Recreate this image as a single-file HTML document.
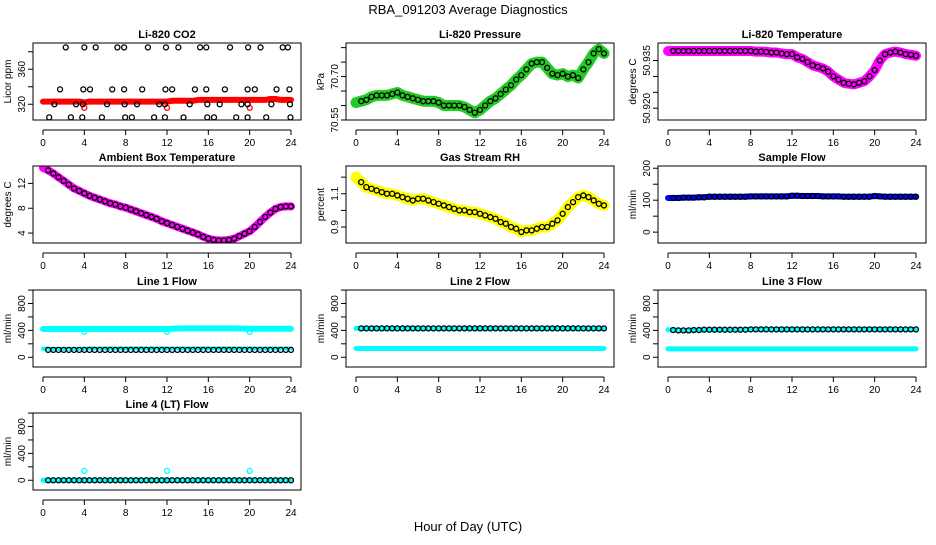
<!DOCTYPE html>
<html><head><meta charset="utf-8"><style>
body{margin:0;background:#fff;}
svg text{font-family:"Liberation Sans",sans-serif;}
</style></head><body>
<svg id="chart" width="936" height="540" viewBox="0 0 936 540" xmlns="http://www.w3.org/2000/svg">
<rect width="936" height="540" fill="#fff"/>
<text x="468" y="14" text-anchor="middle" font-size="13">RBA_091203  Average Diagnostics</text>
<text x="468" y="531" text-anchor="middle" font-size="13">Hour of Day (UTC)</text>
</svg>
<script>
const hours = [0,0.5,1,1.5,2,2.5,3,3.5,4,4.5,5,5.5,6,6.5,7,7.5,8,8.5,9,9.5,10,10.5,11,11.5,12,12.5,13,13.5,14,14.5,15,15.5,16,16.5,17,17.5,18,18.5,19,19.5,20,20.5,21,21.5,22,22.5,23,23.5,24];
const xTicks = [0,4,8,12,16,20,24];

const co2Band = [323,323,323,323,323,323,323,323,322,323,323,323,323,323,323,323,323,323,323,323,323,323,323,323,323,324,324,324,324,324,325,325,325,325,325,325,325,325,325,325,325,325,325,325,326,326,325,325,325];
const co2Hours = [2.2,4.0,5.1,7.2,7.85,10.15,11.9,13.1,15.2,15.8,18.1,19.85,21.05,23.2,23.7, 1.65,3.9,4.55,6.7,7.85,9.6,11.85,12.5,14.7,15.8,17.6,19.8,20.5,22.6,23.85, 1.1,3.2,3.85,6.2,7.9,9.1,11.25,11.8,14.2,15.9,17.1,19.2,19.8,22.1,23.9, 0.6,2.7,3.8,5.7,7.95,8.6,10.75,11.8,13.6,15.9,16.55,18.7,19.8,21.6,23.95];
const co2Values = [385,385,385,385,385,385,385,385,385,385,385,385,385,385,385, 337,337,337,337,337,337,337,337,337,337,337,337,337,337,337, 320,320,320,320,320,320,320,320,320,320,320,320,320,320,320, 305,305,305,305,305,305,305,305,305,305,305,305,305,305,305];

const pressure = [70.61,70.615,70.62,70.63,70.635,70.635,70.635,70.64,70.645,70.635,70.63,70.625,70.62,70.615,70.615,70.615,70.61,70.60,70.60,70.60,70.60,70.595,70.585,70.575,70.585,70.60,70.615,70.625,70.64,70.655,70.67,70.69,70.705,70.725,70.745,70.75,70.75,70.73,70.71,70.705,70.71,70.70,70.705,70.695,70.725,70.75,70.78,70.795,70.78];
const liTemp = [50.938,50.938,50.938,50.938,50.938,50.938,50.938,50.938,50.938,50.938,50.938,50.938,50.938,50.938,50.938,50.938,50.938,50.9378,50.9378,50.9377,50.9375,50.9375,50.9372,50.937,50.937,50.936,50.9355,50.9345,50.9335,50.933,50.9325,50.9315,50.930,50.929,50.928,50.9277,50.9275,50.928,50.9285,50.930,50.932,50.935,50.937,50.9375,50.9378,50.9375,50.937,50.9368,50.9365];
const ambient = [14.5,14.1,13.6,13.0,12.4,11.8,11.2,10.8,10.4,10.0,9.7,9.4,9.1,8.8,8.6,8.3,8.1,7.8,7.5,7.2,6.9,6.6,6.3,5.9,5.6,5.3,5.0,4.7,4.4,4.1,3.8,3.4,3.1,2.9,2.8,2.8,2.9,3.1,3.5,3.9,4.3,5.0,5.8,6.6,7.3,7.9,8.2,8.3,8.3];
const rh = [1.20,1.17,1.14,1.13,1.12,1.11,1.10,1.10,1.09,1.08,1.07,1.06,1.07,1.07,1.06,1.05,1.04,1.03,1.02,1.01,1.00,1.00,0.99,0.99,0.98,0.97,0.96,0.95,0.93,0.92,0.90,0.89,0.87,0.88,0.88,0.89,0.90,0.90,0.92,0.94,0.98,1.02,1.05,1.08,1.09,1.08,1.06,1.04,1.03];
const sampleFlow = [107,107,107,108,108,108,109,109,111,111,111,111,111,111,111,111,112,112,112,112,112,112,112,112,114,114,113,113,113,113,112,112,112,112,111,111,111,111,111,111,113,112,111,111,111,111,111,111,111];

const line1High = [420,420,420,420,420,420,420,420,420,420,420,420,420,420,420,420,420,420,420,420,420,420,420,420,420,425,428,430,430,430,430,430,430,430,430,430,430,430,428,426,425,425,425,425,425,425,425,425,425];
const line1Low = [125,125,125,125,125,125,125,125,125,130,130,130,130,130,130,130,130,130,130,130,130,130,130,130,130,130,130,130,130,130,130,130,130,130,130,130,130,130,130,130,130,130,130,130,130,130,130,130,130];
const line1Mean = [110,110,110,110,110,110,110,110,110,110,110,110,110,110,110,110,110,110,110,110,110,110,110,110,110,110,110,110,110,110,110,110,110,110,110,110,110,110,110,110,110,110,110,110,110,110,110,110,110];
const line2Low = [130,130,130,130,130,130,130,130,130,130,130,130,130,130,130,130,130,130,130,130,130,130,130,130,130,130,130,130,130,130,130,130,130,130,130,130,130,130,130,130,130,130,130,130,130,130,130,130,130];
const line2Mean = [430,430,430,430,430,430,430,430,430,430,430,430,430,430,430,430,430,430,430,430,430,430,430,430,430,430,430,430,430,430,430,430,430,430,430,430,430,430,430,430,430,430,430,430,430,430,430,430,430];
const line3Low = [125,125,125,125,125,125,125,125,125,125,125,125,125,125,125,125,125,125,125,125,125,125,125,125,125,125,125,125,125,125,125,125,125,125,125,125,125,125,125,125,125,125,125,125,125,125,125,125,125];
const line3Mean = [410,405,400,400,400,405,405,410,410,410,410,410,410,410,410,410,415,415,415,415,415,415,415,415,415,415,415,415,415,415,415,415,415,415,415,415,415,415,415,415,415,415,415,415,415,415,415,415,415];
const line4Cyan = [0,0,0,0,0,0,0,0,0,0,0,0,0,0,0,0,0,0,0,0,0,0,0,0,0,0,0,0,0,0,0,0,0,0,0,0,0,0,0,0,0,0,0,0,0,0,0,0,0];
const line4Mean = [0,0,0,0,0,0,0,0,0,0,0,0,0,0,0,0,0,0,0,0,0,0,0,0,0,0,0,0,0,0,0,0,0,0,0,0,0,0,0,0,0,0,0,0,0,0,0,0,0];
const outlierHours = [4,12,20];
const co2Outliers = [316,316,316];
const line4Outliers = [140,140,140];
const line1Outliers = [380,380,380];

const NS = "http://www.w3.org/2000/svg";
const svg = document.getElementById('chart');
const colL = [33,346,658], rowT = [43,166,290,413], PW = 268, PH = 77;

function mk(tag, attrs, parent){
  const e = document.createElementNS(NS, tag);
  for (const k in attrs) e.setAttribute(k, attrs[k]);
  (parent||svg).appendChild(e); return e;
}

function panel(col, row, title, ylab, ymin, ymax, ticks, labels, key){
  const L = colL[col], T = rowT[row];
  const g = mk('g', {});
  
  
  const xs = h => L + 10 + h * (PW - 20) / 24;
  const ys = v => T + PH * (ymax - v) / (ymax - ymin);
  const t = mk('text', {x: L + PW/2, y: T - 5, 'text-anchor':'middle', 'font-size':11, 'font-weight':'bold'}, g);
  t.textContent = title;
  
  
  const yl = mk('text', {transform:`translate(${L-22},${T+PH/2}) rotate(-90)`, 'text-anchor':'middle', 'font-size':10}, g);
  yl.textContent = ylab;
  
  
  const ay = T + PH + 10;
  mk('line', {x1: xs(0), x2: xs(24), y1: ay, y2: ay, stroke:'#000'}, g);
  xTicks.forEach(h => {
    mk('line', {x1: xs(h), x2: xs(h), y1: ay, y2: ay + 5, stroke:'#000'}, g);
    const tx = mk('text', {x: xs(h), y: ay + 16, 'text-anchor':'middle', 'font-size':10}, g);
    tx.textContent = h;
    
    
  });
  ticks.forEach((v, i) => {
    mk('line', {x1: L - 5, x2: L, y1: ys(v), y2: ys(v), stroke:'#000'}, g);
    if (labels[i] !== '') {
      const tx = mk('text', {transform:`translate(${L-8},${ys(v)}) rotate(-90)`, 'text-anchor':'middle', 'font-size':10}, g);
      tx.textContent = labels[i];
      
      
    }
  });
  const clip = 'clip-' + key;
  const cp = mk('clipPath', {id: clip}, g);
  mk('rect', {x: L, y: T, width: PW, height: PH}, cp);
  const plot = mk('g', {'clip-path': `url(#${clip})`}, g);
  mk('rect', {x: L, y: T, width: PW, height: PH, fill:'none', stroke:'#000'}, g);
  return {
    band(vals, color, w, name){
      const pts = hours.map((h, i) => xs(h).toFixed(1) + ',' + ys(vals[i]).toFixed(1)).join(' ');
      const p = mk('polyline', {points: pts, fill:'none', stroke: color, 'stroke-width': w, 'stroke-linejoin':'round', 'stroke-linecap':'round'}, plot);
      
      
    },
    dots(hs, vals, color, name){
      hs.forEach((h, i) => {
        const c = mk('circle', {cx: xs(h), cy: ys(vals[i]), r: 2.5, fill:'none', stroke: color, 'stroke-width': 1.3}, plot);
        
        
      });
    }
  };
}
const halfHours = hours.slice(1);
const tail = a => a.slice(1);

let p = panel(0,0,'Li-820 CO2','Licor ppm',302,390,[320,340,360,380],['320','','360',''],'co2');
p.band(co2Band,'#ff0000',6,'co2-raw-band');
p.dots(outlierHours, co2Outliers, '#ff0000', 'co2-raw-outlier');
p.dots(co2Hours, co2Values, '#000', 'co2-mean-point');

p = panel(1,0,'Li-820 Pressure','kPa',70.55,70.816,[70.55,70.60,70.65,70.70,70.75,70.80],['70.55','','','70.70','',''],'pressure');
p.band(pressure,'#22cc22',11,'pressure-raw-band');
p.dots(halfHours, tail(pressure), '#000', 'pressure-mean-point');

p = panel(2,0,'Li-820 Temperature','degrees C',50.9163,50.9405,[50.920,50.925,50.930,50.935],['50.920','','','50.935'],'li-temp');
p.band(liTemp,'#ff00ff',10,'li-temp-raw-band');
p.dots(halfHours, tail(liTemp), '#000', 'li-temp-mean-point');

p = panel(0,1,'Ambient Box Temperature','degrees C',2.4,14.8,[4,8,12],['4','8','12'],'ambient');
p.band(ambient,'#ff00ff',8,'ambient-raw-band');
p.dots(halfHours, tail(ambient), '#000', 'ambient-mean-point');

p = panel(1,1,'Gas Stream RH','percent',0.804,1.267,[0.9,1.0,1.1,1.2],['0.9','','1.1',''],'rh');
p.band(rh,'#ffff00',11,'rh-raw-band');
p.dots(halfHours, tail(rh), '#000', 'rh-mean-point');

p = panel(2,1,'Sample Flow','ml/min',-34,207,[0,50,100,150,200],['0','','100','','200'],'sample-flow');
p.band(sampleFlow,'#0000ff',6,'sample-flow-raw-band');
p.dots(halfHours, tail(sampleFlow), '#000', 'sample-flow-mean-point');

const flowTicks = [0,200,400,600,800,1000], flowLabels = ['0','','400','','800',''];
p = panel(0,2,'Line 1 Flow','ml/min',-145,1001,flowTicks,flowLabels,'line1');
p.band(line1High,'#00ffff',6,'line1-high-band');
p.band(line1Low,'#00ffff',4,'line1-low-band');
p.dots(outlierHours, line1Outliers, '#00ffff', 'line1-outlier');
p.dots(halfHours, tail(line1Mean), '#000', 'line1-mean-point');

p = panel(1,2,'Line 2 Flow','ml/min',-145,1001,flowTicks,flowLabels,'line2');
p.band(line2Low,'#00ffff',5,'line2-low-band');
p.band(line2Mean,'#00ffff',5,'line2-high-band');
p.dots(halfHours, tail(line2Mean), '#000', 'line2-mean-point');

p = panel(2,2,'Line 3 Flow','ml/min',-145,1001,flowTicks,flowLabels,'line3');
p.band(line3Low,'#00ffff',5,'line3-low-band');
p.band(line3Mean,'#00ffff',5,'line3-high-band');
p.dots(halfHours, tail(line3Mean), '#000', 'line3-mean-point');

p = panel(0,3,'Line 4 (LT) Flow','ml/min',-145,1001,flowTicks,flowLabels,'line4');
p.band(line4Cyan,'#00ffff',5,'line4-raw-band');
p.dots(outlierHours, line4Outliers, '#00ffff', 'line4-outlier');
p.dots(halfHours, tail(line4Mean), '#000', 'line4-mean-point');
</script>
</body></html>
